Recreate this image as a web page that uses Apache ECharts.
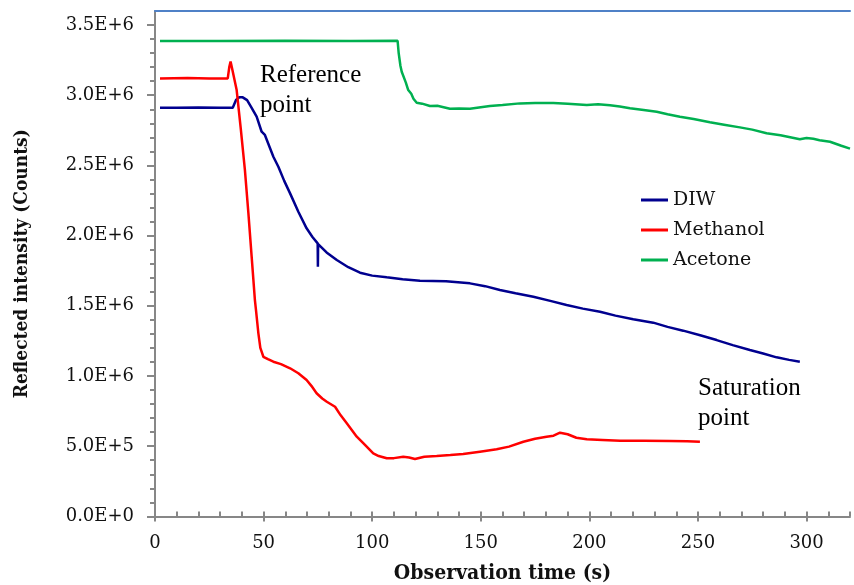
<!DOCTYPE html>
<html>
<head>
<meta charset="utf-8">
<script src="https://cdn.jsdelivr.net/npm/echarts@6/dist/echarts.min.js"></script>
<style>
  html, body { margin: 0; padding: 0; background: #fff; }
  #chart { width: 854px; height: 585px; }
</style>
</head>
<body>
<div id="chart"></div>
<script>
// tick labels
var xTicks = [0, 50, 100, 150, 200, 250, 300];
var xMinorTicks = [0, 10, 20, 30, 40, 50, 60, 70, 80, 90, 100, 110, 120, 130, 140, 150, 160, 170, 180, 190, 200, 210, 220, 230, 240, 250, 260, 270, 280, 290, 300, 310, 320];
var yTicks = [0, 5e5, 1e6, 1.5e6, 2e6, 2.5e6, 3e6, 3.5e6];
var yMinorTicks = [0, 1e5, 2e5, 3e5, 4e5, 5e5, 6e5, 7e5, 8e5, 9e5, 1e6, 1.1e6, 1.2e6, 1.3e6, 1.4e6, 1.5e6, 1.6e6, 1.7e6, 1.8e6, 1.9e6, 2e6, 2.1e6, 2.2e6, 2.3e6, 2.4e6, 2.5e6, 2.6e6, 2.7e6, 2.8e6, 2.9e6, 3e6, 3.1e6, 3.2e6, 3.3e6, 3.4e6, 3.5e6];

// DIW
var diwX = [2.3, 10, 20, 30, 35.8, 37.3, 38.8, 40.4, 42.4, 44.5, 46.8, 49.1, 50.6, 54.5, 56.8, 59.5, 62.2, 66, 69.8, 72.5, 74.9, 75.0, 75.1, 79, 83.7, 89, 94.4, 100, 106.7, 114, 122, 134, 145, 152, 158.8, 166, 174.2, 182, 189.5, 197, 204.9, 212, 220.2, 229.4, 236, 243.2, 251, 258.6, 266, 273.9, 280, 286.2, 292, 296.9];
var diwY = [2.911e6, 2.91e6, 2.912e6, 2.91e6, 2.911e6, 2.966e6, 2.985e6, 2.985e6, 2.965e6, 2.91e6, 2.847e6, 2.74e6, 2.717e6, 2.562e6, 2.491e6, 2.39e6, 2.301e6, 2.17e6, 2.052e6, 1.99e6, 1.945e6, 1.778e6, 1.94e6, 1.88e6, 1.826e6, 1.775e6, 1.736e6, 1.715e6, 1.703e6, 1.69e6, 1.679e6, 1.675e6, 1.66e6, 1.64e6, 1.613e6, 1.59e6, 1.565e6, 1.535e6, 1.506e6, 1.48e6, 1.458e6, 1.43e6, 1.404e6, 1.38e6, 1.35e6, 1.323e6, 1.29e6, 1.256e6, 1.22e6, 1.185e6, 1.16e6, 1.133e6, 1.115e6, 1.102e6];

// Methanol
var methX = [2.3, 15, 25, 33.5, 34.2, 34.8, 35.5, 37.6, 39.5, 41.4, 43, 44.5, 46, 46.5, 47.6, 48.5, 49.9, 52, 54.5, 58, 62.2, 66, 69.8, 72, 74.4, 77, 79.1, 82.9, 85.5, 88.3, 92.9, 96, 100.5, 103, 106.7, 110, 114.3, 117, 119.7, 124, 129.7, 136, 141.9, 149.6, 157.3, 163, 169.6, 175, 180.3, 183.5, 186.5, 190, 194, 198.8, 206, 214.2, 225, 237.1, 245, 250.9];
var methY = [3.12e6, 3.122e6, 3.12e6, 3.12e6, 3.2e6, 3.24e6, 3.19e6, 3.037e6, 2.76e6, 2.467e6, 2.16e6, 1.85e6, 1.541e6, 1.47e6, 1.304e6, 1.2e6, 1.137e6, 1.12e6, 1.102e6, 1.085e6, 1.055e6, 1.02e6, 0.972e6, 0.93e6, 0.877e6, 0.84e6, 0.817e6, 0.781e6, 0.72e6, 0.663e6, 0.568e6, 0.52e6, 0.449e6, 0.43e6, 0.414e6, 0.415e6, 0.425e6, 0.42e6, 0.409e6, 0.425e6, 0.43e6, 0.437e6, 0.444e6, 0.461e6, 0.478e6, 0.497e6, 0.532e6, 0.553e6, 0.568e6, 0.575e6, 0.596e6, 0.585e6, 0.56e6, 0.549e6, 0.545e6, 0.539e6, 0.538e6, 0.537e6, 0.535e6, 0.532e6];

// Acetone
var aceX = [2.3, 30, 60, 90, 111.7, 112.2, 113, 113.6, 114.2, 115.5, 116.6, 118, 119, 120.5, 123, 126.6, 130, 135.8, 140, 145, 150, 154.2, 160, 168, 175, 183.4, 190, 198.8, 204, 209.5, 214, 218.7, 225, 231, 236, 241.7, 248, 255.5, 262, 269.3, 275, 281.6, 288, 296.9, 300, 303.1, 306, 310.8, 316, 320];
var aceY = [3.386e6, 3.386e6, 3.388e6, 3.386e6, 3.388e6, 3.3e6, 3.21e6, 3.167e6, 3.17e6, 3.09e6, 3.037e6, 3.01e6, 2.975e6, 2.947e6, 2.94e6, 2.923e6, 2.925e6, 2.904e6, 2.905e6, 2.904e6, 2.915e6, 2.923e6, 2.93e6, 2.942e6, 2.944e6, 2.944e6, 2.94e6, 2.93e6, 2.935e6, 2.928e6, 2.92e6, 2.907e6, 2.895e6, 2.882e6, 2.865e6, 2.847e6, 2.83e6, 2.807e6, 2.79e6, 2.771e6, 2.755e6, 2.729e6, 2.715e6, 2.686e6, 2.695e6, 2.69e6, 2.68e6, 2.669e6, 2.64e6, 2.62e6];

function pairs(xs, ys) {
    return xs.map(function (x, i) { return [x, ys[i]]; });
}

// 0.0E+0 style labels
function sci(v) {
    if (v === 0) return '0.0E+0';
    var e = Math.floor(Math.log10(v) + 1e-9);
    return (v / Math.pow(10, e)).toFixed(1) + 'E+' + e;
}

var axisGrey = '#878787';
var serif = 'DejaVu Serif';
var boldFont = 'DejaVu Serif Condensed, DejaVu Serif';

var chart = echarts.init(document.getElementById('chart'));

var option = {
    animation: false,
    backgroundColor: '#fff',
    grid: { left: 155, right: 4, top: 11, bottom: 68.6, outerBoundsMode: 'none' },
    legend: {
        orient: 'vertical',
        left: 641,
        top: 190,
        padding: 0,
        icon: 'rect',
        itemWidth: 27,
        itemHeight: 3,
        itemGap: 10,
        textStyle: { fontFamily: serif, fontSize: 19, lineHeight: 20, color: '#111' },
        data: ['DIW', 'Methanol', 'Acetone']
    },
    xAxis: [
        {   // main bottom axis
            type: 'value', position: 'bottom', min: 0, max: 320,
            axisLine: { lineStyle: { color: axisGrey, width: 2 } },
            axisTick: { show: true, inside: false, length: 5, customValues: xTicks, lineStyle: { color: axisGrey, width: 2 } },
            axisLabel: { customValues: xTicks, margin: 18, fontFamily: serif, fontSize: 18, color: '#111' },
            splitLine: { show: false },
            name: 'Observation time (s)',
            nameLocation: 'middle',
            nameGap: 47,
            nameTextStyle: { fontFamily: boldFont, fontWeight: 'bold', fontSize: 21, color: '#111' }
        },
        {   // inner small ticks
            type: 'value', position: 'bottom', min: 0, max: 320,
            axisLine: { show: false },
            axisTick: { show: true, inside: true, length: 5, customValues: xMinorTicks, lineStyle: { color: axisGrey, width: 2 } },
            axisLabel: { show: false },
            splitLine: { show: false }
        },
        {   // top border line
            type: 'value', position: 'top', min: 0, max: 320,
            axisLine: { lineStyle: { color: '#4f81c7', width: 2 } },
            axisTick: { show: false },
            axisLabel: { show: false },
            splitLine: { show: false }
        }
    ],
    yAxis: [
        {
            type: 'value', position: 'left', min: 0, max: 3.6e6,
            axisLine: { show: true, lineStyle: { color: axisGrey, width: 2 } },
            axisTick: { show: true, length: 8, customValues: yTicks, lineStyle: { color: axisGrey, width: 2 } },
            axisLabel: { customValues: yTicks, margin: 21, fontFamily: serif, fontSize: 18, color: '#111', formatter: sci },
            splitLine: { show: false },
            name: 'Reflected intensity (Counts)',
            nameLocation: 'middle',
            nameGap: 123,
            nameTextStyle: { fontFamily: boldFont, fontWeight: 'bold', fontSize: 19, color: '#111' }
        },
        {
            type: 'value', position: 'left', min: 0, max: 3.6e6,
            axisLine: { show: false },
            axisTick: { show: true, length: 5, customValues: yMinorTicks, lineStyle: { color: axisGrey, width: 2 } },
            axisLabel: { show: false },
            splitLine: { show: false }
        }
    ],
    graphic: [
        {
            type: 'text', left: 260, top: 60,
            style: { text: 'Reference\npoint', font: '25px "Liberation Serif"', lineHeight: 30, fill: '#000' }
        },
        {
            type: 'text', left: 698, top: 373,
            style: { text: 'Saturation\npoint', font: '25px "Liberation Serif"', lineHeight: 30, fill: '#000' }
        }
    ],
    series: [
        {
            name: 'DIW', type: 'line', showSymbol: false, symbol: 'none',
            color: '#00008f',
            lineStyle: { width: 2.5, color: '#00008f' },
            data: pairs(diwX, diwY)
        },
        {
            name: 'Methanol', type: 'line', showSymbol: false, symbol: 'none',
            color: '#ff0000',
            lineStyle: { width: 2.5, color: '#ff0000' },
            data: pairs(methX, methY)
        },
        {
            name: 'Acetone', type: 'line', showSymbol: false, symbol: 'none',
            color: '#00b050',
            lineStyle: { width: 2.5, color: '#00b050' },
            data: pairs(aceX, aceY)
        }
    ]
};

chart.setOption(option);
</script>
</body>
</html>
